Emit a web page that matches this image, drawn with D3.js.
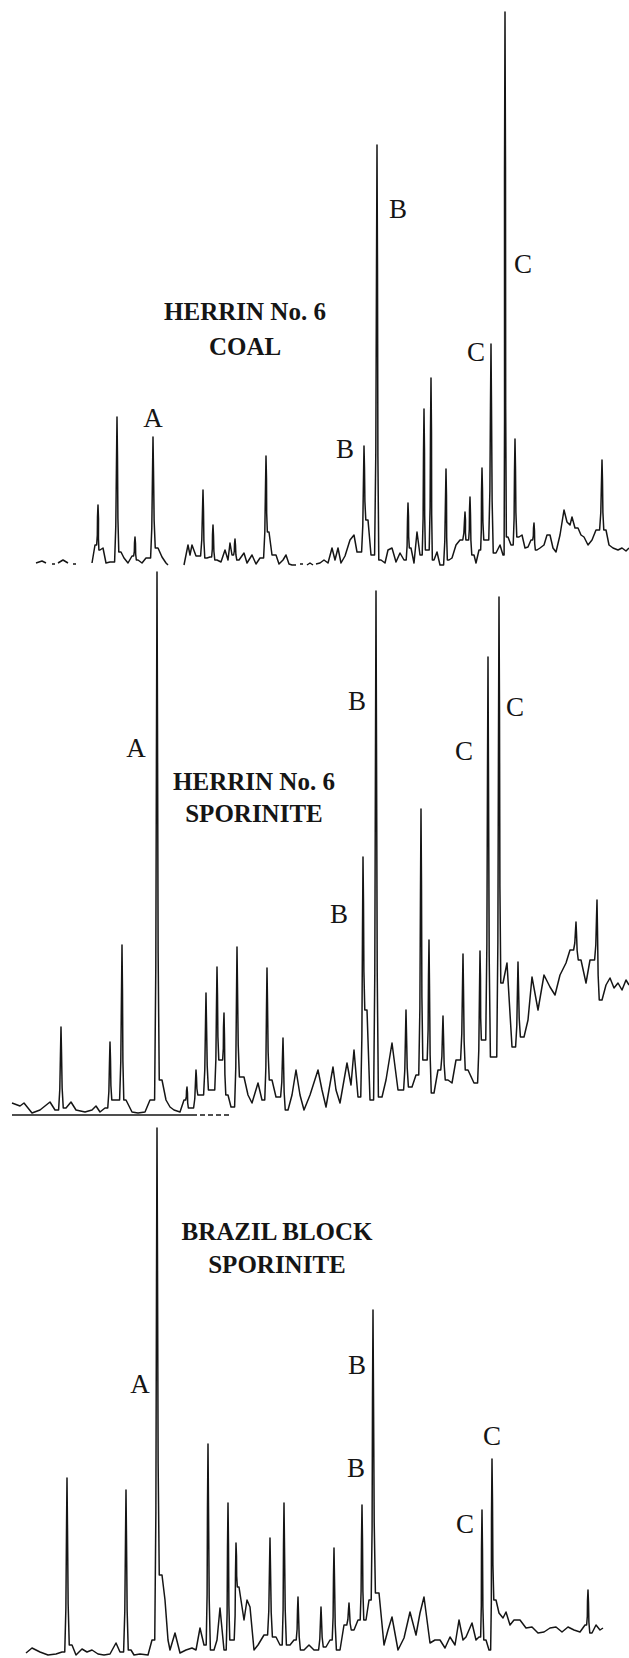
<!doctype html>
<html>
<head>
  <meta charset="utf-8">
  <title>Pyrolysis chromatograms: Herrin No. 6 and Brazil Block</title>
  <style>
  html, body { margin: 0; padding: 0; background: #fff; }
  #vis { width: 629px; height: 1658px; }
  .trace { fill: none; stroke: #151515; stroke-width: 1.5; stroke-linejoin: round; }
  .zero { fill: none; stroke: #151515; stroke-width: 1.3; }
  .peak-label { font-family: "Liberation Serif", "DejaVu Serif", serif; font-size: 27px; fill: #151515; text-anchor: middle; }
  .title { font-family: "Liberation Serif", "DejaVu Serif", serif; font-size: 25px; font-weight: bold; fill: #151515; text-anchor: middle; }
  </style>
</head>
<body>
  <div id="vis"></div>
  <script src="https://d3js.org/d3.v7.min.js"></script>
  <script>
  // retention time (min) and relative response
  // noise: [rt, response] vertices of the trace, null = pen gap
  // peaks: [rt, apex response]
  var coalNoise = [
    [3.6,0.4],[4.2,0.8],[4.6,0.4],[4.7,null],
    [5.2,0.2],[5.5,0.2],[5.6,null],
    [5.8,0.4],[6.3,1.0],[6.8,0.4],[6.9,null],
    [7.3,0.2],[7.6,0.2],[7.7,null],
    [9.2,0.4],[9.5,4.0],[10.0,3.0],[10.3,3.4],[10.6,0.4],[11.0,0.6],
    [12.1,2.6],[12.4,1.4],[12.8,0.4],[13.2,1.8],
    [13.8,1.0],[14.2,0.4],[14.6,1.4],
    [15.8,3.4],[16.2,1.6],[16.6,0.4],[16.8,0],[16.9,null],
    [18.4,0],[18.8,4.0],[19.0,2.0],[19.2,4.0],[19.6,1.8],
    [20.7,1.4],[21.0,1.6],
    [21.7,1.0],[22.1,0.6],[22.5,3.0],[22.8,1.0],[23.0,4.4],[23.2,2.0],
    [23.9,1.0],[24.4,2.4],[24.7,0.4],[25.2,2.0],[25.6,0.2],[26.0,1.4],
    [26.9,6.6],[27.2,2.0],[27.6,2.0],[27.9,0.2],[28.3,1.0],[28.6,2.0],[28.9,0.2],[29.2,0],[29.6,0],[29.7,null],
    [30.0,0.2],[30.3,0.2],[30.4,null],
    [30.7,0],[31.0,0.4],[31.3,0],[31.4,null],
    [31.6,0.2],[32.0,0.4],[32.4,1.0],[32.8,0.4],[33.2,3.4],[33.5,1.0],[33.8,3.4],[34.1,0.4],[34.5,1.8],[35.0,5.0],[35.4,6.0],[35.7,2.6],
    [36.8,9.0],[37.1,2.0],
    [38.1,1.0],[38.5,0.4],[38.8,3.0],[39.2,3.4],[39.6,0.6],[40.0,2.4],[40.4,1.0],
    [41.1,3.4],[41.4,0.4],[41.7,6.6],[42.0,2.0],
    [42.7,3.0],
    [43.4,1.0],[43.7,2.6],[44.0,0],
    [44.9,1.0],[45.2,1.4],[45.6,4.0],[46.0,5.0],
    [46.7,5.0],
    [47.4,2.0],[47.6,0.4],[47.9,3.0],
    [48.6,5.0],
    [49.6,2.4],[50.0,4.0],[50.3,2.0],
    [50.8,5.6],[51.1,4.0],
    [51.9,5.6],[52.2,6.0],[52.5,3.4],[52.8,3.6],[53.1,5.0],
    [53.7,3.0],[54.0,3.4],[54.4,4.0],[54.7,6.0],[55.0,6.0],[55.3,3.4],[55.6,2.6],[56.0,6.0],[56.4,11.0],[56.7,8.6],[57.0,8.0],[57.2,9.6],[57.5,7.4],[57.8,7.4],[58.1,6.0],[58.4,5.6],[58.8,4.0],[59.2,5.0],[59.6,7.0],
    [60.6,7.0],[60.9,4.0],[61.3,3.4],[61.8,3.0],[62.2,3.4],[62.6,2.8],[62.9,3.4]
  ];
  var coalPeaks = [
    [9.8,12],[11.7,29.6],[13.5,5.6],[15.3,25.6],[20.3,15],[21.3,8],[23.5,5.2],[26.6,21.8],
    [36.4,23.8],[37.7,84],[40.8,12.4],[42.4,31.2],[43.1,37.4],[44.6,19.2],[46.5,10.6],[47.0,13.6],
    [48.2,19.4],[49.1,44.2],[50.5,110.6],[51.5,25.2],[53.4,8.4],[60.2,21]
  ];
  var coalLabels = [["A",15.3,27.6],["B",34.5,21.4],["B",39.8,69.4],["C",47.6,40.8],["C",52.3,58.4]];
  var coalTitle = [["HERRIN No. 6",24.5,49],["COAL",24.5,42]];

  var herrinNoise = [
    [1.2,2.4],[2.0,1.8],[2.4,2.4],[3.2,0.4],[4.0,1.0],[5.0,2.6],[5.5,1.0],
    [6.6,1.4],[7.1,2.6],[7.6,1.0],[8.5,0.6],[9.2,1.0],[9.6,1.8],[10.0,0.6],[10.5,1.4],
    [11.4,3.0],[12.6,3.0],[13.2,0.6],[13.8,0.4],[14.5,0.6],[15.0,3.0],
    [16.2,7.0],[16.6,3.0],[17.0,1.6],[17.4,1.0],[18.0,0.6],[18.4,3.0],
    [19.0,1.4],[20.0,4.0],[21.2,5.0],[22.1,11],[22.8,4.0],[23.1,1.6],
    [24.4,7.6],[24.8,4.0],[25.2,2.4],[25.8,6.4],[26.2,3.0],
    [27.2,7.0],[27.6,3.6],[28.8,1.0],[29.2,4.0],[29.6,9.0],[30.0,4.0],[30.4,1.0],
    [31.0,4.0],[31.8,9.0],[32.2,5.0],[32.6,1.6],[33.3,9.6],[33.6,5.0],[34.0,2.4],
    [34.7,10.4],[35.1,6.0],[35.4,13.0],[35.8,3.6],
    [36.7,21],[37.0,3.0],
    [38.2,3.6],[38.6,7.0],[39.2,14.4],[39.8,5.0],
    [41.2,5.6],[41.6,8.0],[42.5,11],[43.4,4.4],[43.8,9.0],
    [44.8,7.0],[45.2,6.4],[45.6,11],[46.8,9.0],[47.4,6.4],
    [48.3,15],[49.4,11.6],[50.3,26.4],[50.7,30.4],[51.2,13.6],
    [52.4,15.6],[52.8,19],[53.2,27.6],[53.8,21],[54.4,28],[55.0,25.6],[55.5,24],[56.0,28],[56.6,30.4],[57.0,33],
    [58.1,31],[58.6,26.4],[59.0,31],
    [60.2,23],[60.6,26],[61.0,27.4],[61.4,25.4],[61.8,26.4],[62.2,25],[62.6,27],[62.9,26]
  ];
  var herrinPeaks = [
    [6.1,17.6],[11.0,14.6],[12.2,34],[15.7,108.6],[18.7,5.6],[19.6,9],[20.6,24.4],[21.7,29.6],[22.4,20.4],
    [23.7,33.6],[26.7,29.4],[28.3,15.4],[36.3,51.6],[37.6,104.8],[40.6,21],[42.1,61.2],[42.9,35],
    [44.3,19.8],[46.3,32.2],[48.0,32.8],[48.8,91.6],[49.9,103.6],[51.8,30.6],[57.6,38.6],[59.7,43]
  ];
  var herrinZero = [[1.2,19.2],[19.2,23.0]];
  var herrinLabels = [["A",13.6,71.6],["B",33.9,38.4],["B",35.7,81],["C",46.4,71],["C",51.5,79.8]];
  var herrinTitle = [["HERRIN No. 6",25.4,65],["SPORINITE",25.4,58.6]];

  var brazilNoise = [
    [2.6,0.4],[3.2,1.4],[3.6,1.0],[4.0,0.6],[4.8,0],[5.6,0.2],[6.2,0.6],
    [7.2,2.0],[7.6,0],[8.2,1.2],[8.7,0.6],[9.2,1.0],[9.8,0.2],[10.4,0],[11.0,0.2],[11.6,2.4],[12.0,0.6],
    [13.1,1.0],[13.4,0],[14.0,0.2],[14.8,0],[15.2,3.0],
    [16.2,16],[16.5,11],[16.8,3.0],[17.0,1.0],[17.5,4.4],[18.0,0.4],[18.6,1.0],[19.2,1.4],[19.6,1.0],[20.0,5.4],[20.4,2.0],
    [21.4,1.0],[21.7,3.0],[22.0,9.4],[22.4,1.0],
    [23.2,3.0],[23.9,13.6],[24.4,7.0],[24.7,11],[25.0,9.6],[25.4,1.0],[25.8,2.0],[26.4,4.0],
    [27.6,3.6],[28.0,2.0],[29.0,2.0],[29.4,3.0],
    [30.4,1.0],[30.9,2.0],[31.4,1.0],[32.6,1.6],[33.0,3.0],
    [34.0,1.0],[34.4,6.0],[35.4,5.0],[35.8,7.0],
    [36.6,7.0],[36.9,11],
    [37.9,12.4],[38.4,2.0],[38.8,5.0],[39.2,7.6],[39.8,1.0],[40.4,3.4],[41.0,8.6],[41.6,4.0],[42.0,8.4],[42.4,11.6],
    [43.0,2.4],[43.5,3.0],[44.0,3.0],[44.5,1.4],[45.0,3.6],[45.5,2.0],[45.9,7.0],[46.3,3.0],[46.6,3.6],[47.2,6.4],[47.6,3.0],[47.9,3.6],
    [48.6,3.0],[48.9,1.0],
    [49.6,11],[49.9,8.4],[50.3,7.4],[50.6,8.6],[51.0,6.0],[51.4,7.0],[52.0,7.0],[52.6,5.4],[53.2,5.6],[53.8,4.4],
    [54.4,4.6],[55.0,5.4],[55.6,5.6],[56.2,4.6],[56.8,5.6],[57.4,5.0],[58.0,4.6],[58.5,6.0],
    [59.2,4.4],[59.6,6.0],[60.0,5.0],[60.3,5.4]
  ];
  var brazilPeaks = [
    [6.7,35.4],[12.6,33],[15.7,105.4],[20.8,42.2],[22.8,30.4],[23.6,22.4],[27.0,23.4],[28.4,30.4],
    [29.8,11.6],[32.1,9.6],[33.4,21.4],[34.9,10.4],[36.2,30],[37.3,69],[48.2,29],[49.2,39.2],[58.8,13]
  ];
  var brazilLabels = [["A",14.0,52.4],["B",35.7,56.2],["B",35.6,35.6],["C",49.2,42],["C",46.5,24.4]];
  var brazilTitle = [["BRAZIL BLOCK",27.7,83],["SPORINITE",27.7,76.4]];

  var width = 629;
  var height = 1658;

  var svg = d3.select('#vis').append('svg')
    .attr('width', width)
    .attr('height', height);

  var x = d3.scaleLinear().domain([0, 62.9]).range([0, width]);

  var panels = [
    { zero: 565, noise: coalNoise, peaks: coalPeaks, labels: coalLabels, title: coalTitle },
    { zero: 1115, noise: herrinNoise, peaks: herrinPeaks, labels: herrinLabels, title: herrinTitle, base: herrinZero },
    { zero: 1655, noise: brazilNoise, peaks: brazilPeaks, labels: brazilLabels, title: brazilTitle }
  ];

  // merge noise vertices and peak apexes into one pen path
  function tracePoints(noise, peaks){
    var items = noise.map(function(d){ return { rt: d[0], v: d[1], peak: false }; })
      .concat(peaks.map(function(d){ return { rt: d[0], v: d[1], peak: true }; }));
    items.sort(function(a, b){ return a.rt - b.rt; });
    var pts = [];
    items.forEach(function(d, i){
      if(!d.peak){ pts.push([d.rt, d.v]); return; }
      var prev = null, next = null;
      for(var j = i - 1; j >= 0; j--) if(!items[j].peak){ prev = items[j]; break; }
      for(var k = i + 1; k < items.length; k++) if(!items[k].peak){ next = items[k]; break; }
      var l = prev && prev.v != null ? prev.v : 0;
      var r = next && next.v != null ? next.v : 0;
      var wl = prev ? Math.min(0.24, (d.rt - prev.rt) * 0.45) : 0.24;
      var wr = next ? Math.min(0.24, (next.rt - d.rt) * 0.45) : 0.24;
      // narrow spike with a slightly wider foot, like the pen trace
      pts.push([d.rt - wl, l]);
      pts.push([d.rt - wl * 0.5, l + (d.v - l) * 0.25]);
      pts.push([d.rt - 0.05, l + (d.v - l) * 0.7]);
      pts.push([d.rt, d.v]);
      pts.push([d.rt + 0.05, r + (d.v - r) * 0.7]);
      pts.push([d.rt + wr * 0.5, r + (d.v - r) * 0.25]);
      pts.push([d.rt + wr, r]);
    });
    return pts;
  }

  panels.forEach(function(p){
    var y = d3.scaleLinear().domain([0, 110]).range([p.zero, p.zero - 550]);
    var line = d3.line()
      .defined(function(d){ return d[1] != null; })
      .x(function(d){ return x(d[0]); })
      .y(function(d){ return y(d[1]); });

    var g = svg.append('g');

    if(p.base){
      g.append('path').attr('class', 'zero')
        .attr('d', line([[p.base[0][0], 0], [p.base[0][1], 0]]));
      g.append('path').attr('class', 'zero')
        .attr('stroke-dasharray', '5,3')
        .attr('d', line([[p.base[1][0], 0], [p.base[1][1], 0]]));
    }

    g.append('path').attr('class', 'trace')
      .attr('d', line(tracePoints(p.noise, p.peaks)));

    g.selectAll('text.peak-label').data(p.labels)
      .enter().append('text')
        .attr('class', 'peak-label')
        .attr('x', function(d){ return x(d[1]); })
        .attr('y', function(d){ return y(d[2]); })
        .text(function(d){ return d[0]; });

    g.selectAll('text.title').data(p.title)
      .enter().append('text')
        .attr('class', 'title')
        .attr('x', function(d){ return x(d[1]); })
        .attr('y', function(d){ return y(d[2]); })
        .text(function(d){ return d[0]; });
  });
  </script>
</body>
</html>
